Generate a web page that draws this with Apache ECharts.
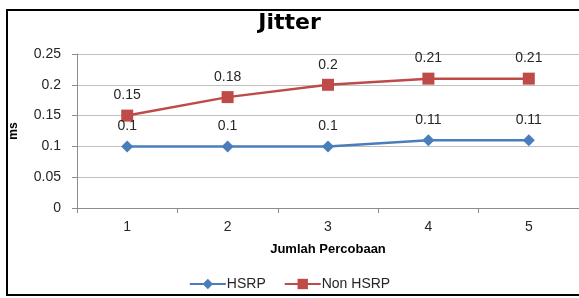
<!DOCTYPE html>
<html><head><meta charset="utf-8">
<script src="https://cdn.jsdelivr.net/npm/echarts@6/dist/echarts.min.js"></script>
<style>html,body{margin:0;padding:0;background:#fff}#c{width:579px;height:298px}</style>
</head><body><div id="c"></div>
<script>
const categories = ['1', '2', '3', '4', '5'];
const hsrp = [0.1, 0.1, 0.1, 0.11, 0.11];
const nonHsrp = [0.15, 0.18, 0.2, 0.21, 0.21];
const seriesNames = ['HSRP', 'Non HSRP'];

const font = 'Liberation Sans';
const chart = echarts.init(document.getElementById('c'));
chart.setOption({
  animation: false,
  backgroundColor: '#fff',
  title: {
    text: 'Jitter', left: 'center', top: 7,
    textStyle: {fontFamily: 'DejaVu Sans', fontWeight: 'bold', fontSize: 22, color: '#000'}
  },
  graphic: [{
    type: 'rect', shape: {x: 7, y: 10, width: 600, height: 285},
    style: {fill: 'none', stroke: '#000', lineWidth: 2}, silent: true, z: 100
  }],
  legend: {
    bottom: 2, left: 'center', itemWidth: 36, itemHeight: 13, itemGap: 18,
    textStyle: {fontFamily: font, fontSize: 14, color: '#262626', padding: [0, 0, 0, -4]},
    data: seriesNames
  },
  grid: {left: 73, top: 54, width: 507, height: 154},
  xAxis: {
    type: 'category', data: categories, boundaryGap: true,
    name: 'Jumlah Percobaan', nameLocation: 'middle', nameGap: 35,
    nameTextStyle: {fontFamily: font, fontWeight: 'bold', fontSize: 13, color: '#000'},
    axisLine: {lineStyle: {color: '#8c8c8c'}},
    axisTick: {show: true, interval: 0, length: 5, lineStyle: {color: '#8c8c8c'}},
    axisLabel: {fontFamily: font, fontSize: 14, color: '#262626', margin: 12}
  },
  yAxis: {
    type: 'value', min: 0, max: 0.25, interval: 0.05,
    name: 'ms', nameLocation: 'middle', nameRotate: 90, nameGap: 57,
    nameTextStyle: {fontFamily: font, fontWeight: 'bold', fontSize: 12, color: '#000'},
    axisLine: {show: true, lineStyle: {color: '#8c8c8c'}},
    axisTick: {show: true, length: 5, lineStyle: {color: '#8c8c8c'}},
    axisLabel: {fontFamily: font, fontSize: 14, color: '#262626', margin: 16},
    splitLine: {lineStyle: {color: '#c0c0c0'}}
  },
  series: [{
    name: seriesNames[0], type: 'line', data: hsrp,
    symbol: 'diamond', symbolSize: 12,
    itemStyle: {color: '#4a7ebb'}, lineStyle: {color: '#4a7ebb', width: 2.5},
    label: {show: true, position: 'top', distance: 7, fontFamily: font, fontSize: 14, color: '#262626'}
  }, {
    name: seriesNames[1], type: 'line', data: nonHsrp,
    symbol: 'rect', symbolSize: 12,
    itemStyle: {color: '#be4b48'}, lineStyle: {color: '#be4b48', width: 2.5},
    label: {show: true, position: 'top', distance: 7, fontFamily: font, fontSize: 14, color: '#262626'}
  }]
});
</script></body></html>
